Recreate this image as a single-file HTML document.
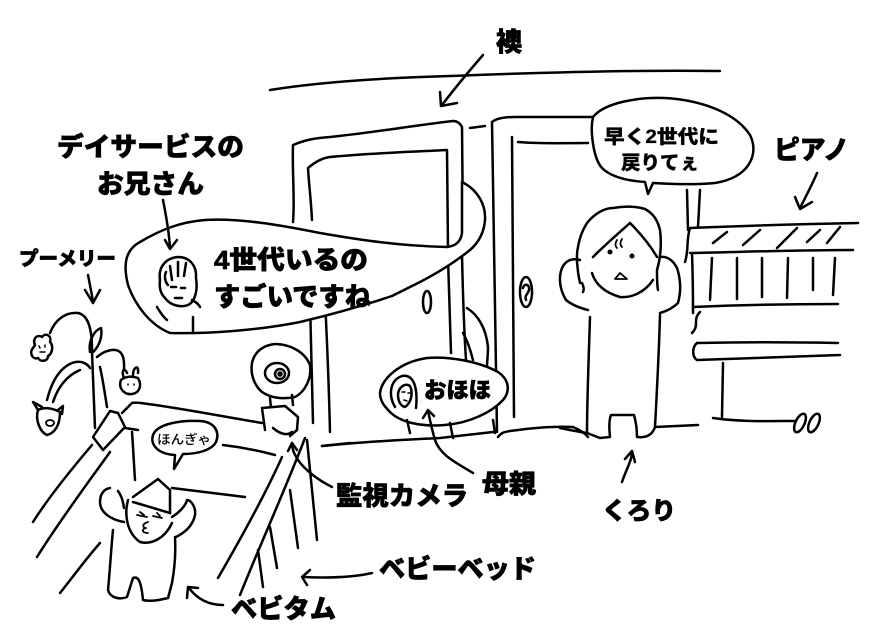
<!DOCTYPE html>
<html><head><meta charset="utf-8"><style>
html,body{margin:0;padding:0;background:#fff;}
svg{display:block;}
text{font-family:"Liberation Sans","Noto Sans CJK JP",sans-serif;font-weight:900;fill:#000;stroke:#000;stroke-width:0.7px;stroke-linejoin:round;}
</style></head><body>
<svg width="890" height="633" viewBox="0 0 890 633" xmlns="http://www.w3.org/2000/svg">
<rect x="0" y="0" width="890" height="633" fill="#fff"/>
<g fill="none" stroke="#000" stroke-width="2.5" stroke-linecap="round" stroke-linejoin="round">
<!-- ceiling -->
<path d="M270,90 C320,82 380,78 450,76 C550,72 650,70 720,71"/>
<!-- fusuma arrow -->
<path d="M483,55 C470,70 455,88 442,105"/>
<path d="M440,92 L441,106 L457,103"/>
<!-- left door outer -->
<path d="M293,222 C295,200 292,170 293,145 C305,140 315,138 330,137 C370,133 410,126 453,121 C457,121 460,123 462,127 L463,233"/>
<path d="M462,255 C463,300 464,330 466,360"/>
<!-- left door inner -->
<path d="M312,220 C311,200 309,185 308,168 C315,162 322,158 330,157 C370,153 410,152 447,150 L448,250"/>
<path d="M448,258 C449,290 450,320 451,353"/>
<!-- left door lower sides -->
<path d="M310,300 C311,340 312,390 313,423"/>
<path d="M325,300 C327,340 329,390 330,432"/>
<!-- curve behind -->
<path d="M467,308 C478,315 486,328 488,347 C488,355 487,362 487,367"/>
<path d="M463,333 C467,340 470,348 473,360"/>
<!-- between doors dash -->
<path d="M470,128 L485,126"/>
<!-- right door -->
<path d="M492,122 C494,200 495,330 497,432"/>
<path d="M492,122 C497,118 505,117 515,117 C540,117 570,117 593,117"/>
<path d="M512,137 C513,220 513,330 514,417"/>
<path d="M518,142 C540,144 565,143 588,143"/>
<!-- floor -->
<path d="M322,446 C360,442 400,440 440,438 L493,432"/>
<path d="M498,437 C502,432 505,432 510,431 C530,428 555,426 573,427 C580,430 585,433 588,437"/>
<!-- door knobs -->
<ellipse cx="427" cy="302" rx="4" ry="11"/>
<ellipse cx="526" cy="292" rx="6" ry="15"/>
<path d="M523,288 C524,283 530,284 529,290 C528,294 524,296 526,300"/>

<!-- big bubble -->
<path fill="#fff" d="M170,333 C150,325 135,305 128,285 C123,265 125,250 140,242 C160,230 180,222 205,220 C240,218 280,225 320,233 C360,240 400,246 447,247 C456,246 461,241 462,233 L462,182 C478,190 486,205 485,220 C484,234 478,243 470,250 C455,262 435,275 410,287 L392,296 C380,300 350,310 300,322 C260,330 210,334 170,333 Z"/>
<!-- oniisan face -->
<path d="M160,280 C158,268 165,258 178,257 C190,257 197,266 196,278 C198,290 195,302 188,305 C180,308 170,305 165,298 C160,293 159,287 160,280"/>
<path d="M170,266 L172,280 M178,262 L178,276 M186,263 L184,276 M166,272 C164,276 165,282 168,285"/>
<path d="M171,287 L176,287 M181,288 L185,288 M175,298 L182,298"/>
<path d="M157,307 C160,312 163,317 167,320 M192,300 C196,302 199,305 200,307 M193,317 L193,333"/>
<!-- oniisan arrow -->
<path d="M163,200 C166,215 169,232 170,248"/>
<path d="M165,240 L170,249 L177,240"/>
<!-- pumeri arrow -->
<path d="M88,275 C90,285 92,295 93,302"/>
<path d="M85,290 L93,303 L100,290"/>

<!-- mobile -->
<path d="M50,333 C55,320 65,312 78,313 C88,315 92,328 92,350"/>
<path d="M92,352 C93,380 94,405 95,428"/>
<path d="M90,352 C88,340 95,330 101,328 C103,338 98,348 92,353"/>
<path d="M47,400 C52,380 60,368 72,363 C80,360 87,363 90,368"/>
<path d="M53,402 C58,387 66,376 80,370"/>
<path d="M97,357 C105,350 115,348 120,352 C125,357 124,365 124,372"/>
<path d="M100,367 C103,380 105,395 107,407"/>
<path fill="#fff" d="M35,345 C32,338 38,334 42,337 C46,332 52,336 50,342 C54,346 52,354 48,356 C48,362 40,362 38,358 C32,360 29,352 33,348 Z"/>
<path stroke-width="1.5" d="M39,346 L40,348 M45,345 L45,347 M40,352 L45,352"/>
<path fill="#fff" d="M124,378 C121,372 124,366 127,373 M133,375 C133,367 139,364 138,373 M121,380 C118,388 124,395 132,394 C140,393 142,385 138,378 C132,376 126,376 121,380 Z"/>
<path stroke-width="1.5" d="M128,384 L128,385 M134,384 L134,385"/>
<path fill="#fff" d="M38,410 C35,420 40,432 47,435 C55,433 60,425 60,412 C52,408 44,407 38,410 Z"/>
<path d="M38,410 L33,402 L42,407 M58,410 L63,406 L62,414"/>
<ellipse cx="50" cy="423" rx="4" ry="3" stroke-width="1.8"/>

<!-- crib -->
<path d="M122,413 L132,403 C137,402 139,403 141,403 C180,408 220,416 262,423"/>
<path d="M93,437 L110,411 L118,413 L125,427 L103,450 Z"/>
<path d="M92,445 C75,465 50,495 33,522"/>
<path d="M110,452 C90,480 60,520 37,557"/>
<path d="M100,543 C85,560 72,578 60,593"/>
<path d="M132,432 C133,445 134,465 135,480"/>
<path d="M125,428 L138,430"/>
<path d="M223,445 C240,447 260,451 275,455"/>
<path d="M172,488 C195,491 220,494 245,497"/>
<path d="M282,457 C265,495 240,540 218,578"/>
<path d="M305,438 C285,490 260,545 240,595"/>
<path d="M290,490 L298,548"/>
<path d="M307,440 L317,540"/>
<path d="M270,527 L277,568"/>
<path d="M258,550 L263,587"/>
<path d="M322,446 L350,443"/>

<!-- camera -->
<path fill="#fff" d="M252,363 C255,350 265,345 275,344 C290,344 305,352 310,365 C312,378 305,392 295,397 C285,399 272,399 262,392 C255,386 250,375 252,363 Z"/>
<ellipse cx="277" cy="373" rx="12" ry="10"/>
<circle cx="280" cy="374" r="5"/>
<circle cx="280" cy="374" r="1.5"/>
<path d="M270,398 L271,408 M292,395 L293,405"/>
<path fill="#fff" d="M262,408 L285,406 L298,417 L297,430 L290,436 M262,408 L265,430"/>
<path d="M273,428 C280,434 287,436 292,432"/>

<!-- honngya bubble -->
<path fill="#fff" d="M175,455 C158,454 150,445 153,435 C157,424 180,420 200,421 C215,422 220,432 216,442 C212,450 198,454 183,454 L174,469 Z"/>

<!-- baby -->
<path d="M133,497 L158,479 L170,490 L170,513"/>
<path d="M133,502 L170,513"/>
<path d="M128,500 C124,515 127,533 140,542 C152,545 165,538 172,523"/>
<path stroke-width="1.8" d="M137,515 L147,517 M153,516 L162,518 M140,512 L144,515 M157,513 L160,516"/>
<path stroke-width="1.8" d="M148,522 C142,524 142,527 146,528 C141,529 142,533 148,533"/>
<path d="M124,522 C112,520 100,513 100,502 C100,494 104,489 110,488"/>
<path d="M118,491 C121,495 123,500 124,508"/>
<path d="M172,517 C180,512 186,505 187,500 C191,500 196,507 195,515 C193,525 186,532 176,537"/>
<path d="M113,530 C111,550 110,570 108,590 C110,598 120,600 127,597 L133,578 C138,576 141,580 143,600 C150,602 160,600 168,598 L172,583 C174,572 176,555 175,537"/>

<!-- ohoho bubble -->
<path fill="#fff" d="M380,393 C382,378 400,362 427,358 C450,356 480,362 498,372 C510,380 510,392 503,400 C492,412 470,423 445,425 C420,427 400,422 390,412 C383,405 380,400 380,393 Z"/>
<path d="M395,407 C388,395 390,380 402,376 C414,374 418,388 416,408"/>
<path d="M398,395 C398,388 405,382 410,386 C413,392 412,402 405,407 C400,406 398,400 398,395"/>
<path stroke-width="1.5" d="M402,392 L405,392 M408,393 L410,393 M404,400 L407,401"/>
<path d="M407,420 L410,433 M450,423 L453,438 M493,420 L495,433"/>

<!-- mother arrow -->
<path d="M473,473 C455,462 440,455 435,440 C432,430 430,420 428,411"/>
<path d="M423,418 L428,410 L434,416"/>
<!-- camera arrow -->
<path d="M332,487 C318,480 305,470 298,460 C293,452 292,448 292,443"/>
<path d="M288,451 L292,443 L297,450"/>
<!-- baby bed arrow -->
<path d="M372,573 C350,578 325,578 303,577"/>
<path d="M310,570 L302,577 L307,585"/>
<!-- bebitamu arrow -->
<path d="M223,605 C210,605 198,600 189,588"/>
<path d="M187,598 L188,587 L198,588"/>

<!-- hayaku bubble -->
<path fill="#fff" d="M593,117 C605,102 640,97 665,98 C700,100 735,112 750,135 C760,155 748,178 715,183 C695,185 670,184 653,183 L648,194 L645,182 C630,181 612,178 602,168 C593,158 590,130 593,117 Z"/>

<!-- kurori -->
<path d="M580,283 C577,270 576,255 578,247 C580,235 584,228 587,223 C595,213 605,208 613,208 C625,206 635,206 645,209 C652,213 657,218 660,230 C662,245 660,260 657,270 C657,278 657,285 658,290"/>
<path d="M593,257 C605,245 620,232 630,223 C640,233 650,245 657,257"/>
<path d="M592,273 C595,283 603,292 620,297 C632,298 645,292 653,280"/>
<circle cx="610" cy="252" r="1.3" fill="#000"/>
<circle cx="632" cy="256" r="1.3" fill="#000"/>
<path stroke-width="1.8" d="M617,240 C615,243 615,246 617,248 M622,239 C620,242 620,245 622,247"/>
<path stroke-width="1.8" d="M615,279 L620,273 L627,279 Z"/>
<path d="M580,260 C572,258 566,260 562,268 C558,278 560,290 566,300 C572,305 580,308 588,310"/>
<path d="M582,283 C584,287 584,290 583,292"/>
<path d="M660,257 C667,256 673,260 677,268 C681,280 681,292 678,303 C673,308 667,311 660,313"/>
<path d="M590,317 C589,350 587,400 587,433"/>
<path d="M660,315 C659,350 657,390 655,427"/>
<path d="M560,428 C570,430 580,432 587,433 L600,438 L610,437 C609,428 609,420 611,415 L634,415 C636,422 637,430 637,437 C645,438 652,436 655,427 L698,425"/>
<!-- kurori arrow -->
<path d="M622,482 C626,470 632,460 632,452"/>
<path d="M625,459 L632,451 L635,462"/>

<!-- piano -->
<path d="M687,190 L688,230 M700,190 L698,227"/>
<path d="M690,228 C740,226 800,224 858,223"/>
<path d="M713,243 L727,232 M743,245 L760,230 M777,248 L797,228 M807,242 L820,230 M827,243 L840,227"/>
<path d="M690,253 C740,252 800,250 853,250"/>
<path d="M690,228 C686,240 689,250 685,262"/>
<path d="M692,253 C693,280 693,300 693,313"/>
<path d="M712,258 L710,300 M737,258 L737,299 M762,258 L762,297 M788,258 L787,298 M813,258 L813,290 M835,258 L833,295"/>
<path d="M693,307 C740,305 790,304 838,304"/>
<path d="M700,312 C692,320 700,325 692,333"/>
<path d="M697,343 C740,342 790,342 838,343"/>
<path d="M697,343 C692,347 692,357 697,360 C760,358 800,356 840,355"/>
<path d="M723,363 L722,417"/>
<path d="M713,418 C740,422 770,421 795,421"/>
<ellipse cx="800" cy="423" rx="4.5" ry="10" transform="rotate(25 800 423)"/>
<ellipse cx="814" cy="423" rx="4.5" ry="10" transform="rotate(25 814 423)"/>
<!-- piano arrow -->
<path d="M817,173 C812,185 805,198 800,208"/>
<path d="M795,197 L800,209 L812,202"/>
</g>

<!-- texts -->
<text x="496" y="51" font-size="26">襖</text>
<text x="57" y="156" font-size="26" textLength="187" lengthAdjust="spacingAndGlyphs">デイサービスの</text>
<text x="97" y="193" font-size="26" textLength="107" lengthAdjust="spacingAndGlyphs">お兄さん</text>
<text x="214" y="269" font-size="26" textLength="154" lengthAdjust="spacingAndGlyphs">4世代いるの</text>
<text x="214" y="306" font-size="26" textLength="157" lengthAdjust="spacingAndGlyphs">すごいですね</text>
<text x="19" y="265" font-size="19" textLength="97" lengthAdjust="spacingAndGlyphs">プーメリー</text>
<text x="604" y="143" font-size="19" textLength="115" lengthAdjust="spacingAndGlyphs" style="stroke-width:0.3px">早く2世代に</text>
<text x="621" y="169" font-size="19" textLength="78" lengthAdjust="spacingAndGlyphs" style="stroke-width:0.3px">戻りてぇ</text>
<text x="774" y="159" font-size="26" textLength="75" lengthAdjust="spacingAndGlyphs">ピアノ</text>
<text x="424" y="398" font-size="22" textLength="67" lengthAdjust="spacingAndGlyphs">おほほ</text>
<text x="157" y="444" font-size="13" textLength="54" lengthAdjust="spacingAndGlyphs" style="font-weight:500;stroke-width:0">ほんぎゃ</text>
<text x="336" y="505" font-size="26" textLength="132" lengthAdjust="spacingAndGlyphs">監視カメラ</text>
<text x="482" y="493" font-size="26" textLength="54" lengthAdjust="spacingAndGlyphs">母親</text>
<text x="602" y="519" font-size="24" textLength="74" lengthAdjust="spacingAndGlyphs">くろり</text>
<text x="379" y="578" font-size="26" textLength="157" lengthAdjust="spacingAndGlyphs">ベビーベッド</text>
<text x="231" y="618" font-size="26" textLength="105" lengthAdjust="spacingAndGlyphs">ベビタム</text>
</svg>
</body></html>
